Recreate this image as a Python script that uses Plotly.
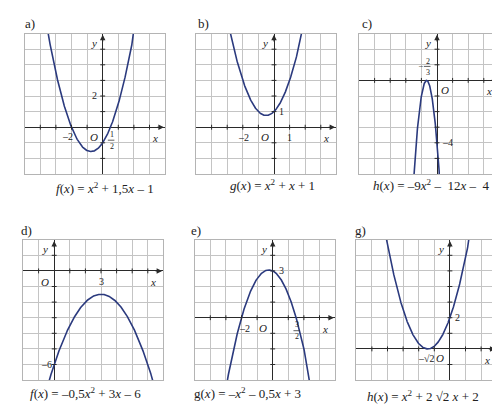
import numpy as np
import plotly.graph_objects as go

W, H = 500, 406
S2 = float(np.sqrt(2))

# ---------------- data ----------------
panel_names = ["a)", "b)", "c)", "d)", "e)", "g)"]
coef_a = [1.0, 1.0, -9.0, -0.5, -1.0, 1.0]          # x^2 coefficient
coef_b = [1.5, 1.0, -12.0, 3.0, -0.5, 2 * S2]       # x coefficient
coef_c = [-1.0, 1.0, -4.0, -6.0, 3.0, 2.0]          # constant term
x_ranges = [(-5, 4), (-5, 4), (-5, 4), (-2, 7), (-5, 4), (-6, 3)]
y_ranges = [(-3, 6), (-3, 6), (-6, 3), (-7, 2), (-4, 5), (-2, 7)]
captions = [
    "<i>f</i>(<i>x</i>) = <i>x</i><sup>2</sup> + 1,5<i>x</i> – 1",
    "<i>g</i>(<i>x</i>) = <i>x</i><sup>2</sup> + <i>x</i> + 1",
    "<i>h</i>(<i>x</i>) = –9<i>x</i><sup>2</sup> –  12<i>x</i> –  4",
    "<i>f</i>(<i>x</i>) = –0,5<i>x</i><sup>2</sup> + 3<i>x</i> – 6",
    "g(<i>x</i>) = –<i>x</i><sup>2</sup> – 0,5<i>x</i> + 3",
    "<i>h</i>(<i>x</i>) = <i>x</i><sup>2</sup> + 2 √2 <i>x</i> + 2",
]
# simple value labels: (x, y, text, xanchor, yanchor, xshift, yshift)
value_labels = [
    [(-2, 0, "–2", "right", "top", 3, -2), (0, 2, "2", "right", "middle", -4, 0)],
    [(-2, 0, "–2", "center", "top", 1, -3), (1, 0, "1", "center", "top", 0, -3),
     (0, 1, "1", "left", "middle", 3, 0)],
    [(0, -4, "–4", "left", "middle", 3, 0)],
    [(3, 0, "3", "center", "top", 0, -3), (0, -6, "–6", "right", "middle", 0, 0)],
    [(0, 3, "3", "left", "middle", 4, 0), (-2, 0, "–2", "center", "top", 3, -3)],
    [(0, 2, "2", "left", "middle", 3, 0), (-S2, 0, "–√2", "center", "top", -1, -2)],
]
# fraction labels: (x, numerator, denominator, sign, above_axis)
fractions = [
    [(0.5, "1", "2", "", False)],
    [],
    [(-2 / 3, "2", "3", "–", True)],
    [],
    [(1.5, "3", "2", "", False)],
    [],
]
# origin label shift per panel (xanchor, xshift, yshift)
origin_pos = [("right", -3, -2), ("right", -3, -2), ("left", 2, -2),
              ("right", -3, -3), ("right", -4, -2), ("right", -4, -1)]

# ---------------- layout geometry (px) ----------------
CELL = 15.6
SIZE = 9 * CELL
boxes = [(16.7, 25.6), (188.0, 25.6), (351.0, 25.6),
         (15.0, 231.7), (186.7, 231.7), (348.3, 231.7)]
name_pos = [(15, 15), (188, 15), (352, 15), (11, 222), (181, 222), (345, 222)]
caption_pos = [(97, 180), (264, 177), (423, 177), (77, 385), (239, 385), (415, 388)]

CURVE = "#2b3a7e"
GRID = "#c4c4c4"
AXIS = "#2a2a2a"
FONT = "Liberation Serif, Times New Roman, DejaVu Serif, serif"

fig = go.Figure()
annotations = []
shapes = []
layout = dict(
    width=W, height=H, margin=dict(l=0, r=0, t=0, b=0),
    paper_bgcolor="white", plot_bgcolor="white", showlegend=False,
    font=dict(family=FONT, color="#222", size=11),
)

for i in range(6):
    n = i + 1
    xa = "xaxis" if n == 1 else f"xaxis{n}"
    ya = "yaxis" if n == 1 else f"yaxis{n}"
    xr = "x" if n == 1 else f"x{n}"
    yr = "y" if n == 1 else f"y{n}"
    left, top = boxes[i]
    x0, x1 = x_ranges[i]
    y0, y1 = y_ranges[i]
    common = dict(showgrid=True, gridcolor=GRID, gridwidth=1, dtick=1,
                  zeroline=True, zerolinecolor=AXIS, zerolinewidth=1.1,
                  showticklabels=False, ticks="", showline=True, mirror=True,
                  linecolor="#b4b4b4", linewidth=1, fixedrange=True)
    layout[xa] = dict(common, range=[x0, x1], tick0=0,
                      domain=[left / W, (left + SIZE) / W], anchor=yr)
    layout[ya] = dict(common, range=[y0, y1], tick0=0,
                      domain=[1 - (top + SIZE) / H, 1 - top / H], anchor=xr)

    # curve
    xs = np.linspace(x0, x1, 600)
    ys = coef_a[i] * xs ** 2 + coef_b[i] * xs + coef_c[i]
    fig.add_trace(go.Scatter(x=xs, y=ys, mode="lines", xaxis=xr, yaxis=yr,
                             line=dict(color=CURVE, width=1.6), hoverinfo="skip"))
    # small tick marks on axes
    tx = [k for k in range(x0 + 1, x1) if k != 0]
    ty = [k for k in range(y0 + 1, y1) if k != 0]
    fig.add_trace(go.Scatter(x=tx, y=[0] * len(tx), mode="markers", xaxis=xr, yaxis=yr,
                             marker=dict(symbol="line-ns", size=3.5,
                                         line=dict(color=AXIS, width=1)), hoverinfo="skip"))
    fig.add_trace(go.Scatter(x=[0] * len(ty), y=ty, mode="markers", xaxis=xr, yaxis=yr,
                             marker=dict(symbol="line-ew", size=3.5,
                                         line=dict(color=AXIS, width=1)), hoverinfo="skip"))

    # axis arrows
    annotations.append(dict(x=x1 - 0.08, y=0, ax=x1 - 0.6, ay=0, xref=xr, yref=yr,
                            axref=xr, ayref=yr, text="", showarrow=True, arrowhead=2,
                            arrowsize=1, arrowwidth=1.1, arrowcolor=AXIS))
    annotations.append(dict(x=0, y=y1 - 0.08, ax=0, ay=y1 - 0.6, xref=xr, yref=yr,
                            axref=xr, ayref=yr, text="", showarrow=True, arrowhead=2,
                            arrowsize=1, arrowwidth=1.1, arrowcolor=AXIS))
    # axis names
    annotations.append(dict(x=0, y=y1, xref=xr, yref=yr, text="<i>y</i>", showarrow=False,
                            xanchor="right", yanchor="top", xshift=-4, yshift=-1,
                            font=dict(size=11)))
    annotations.append(dict(x=x1, y=0, xref=xr, yref=yr, text="<i>x</i>", showarrow=False,
                            xanchor="right", yanchor="top", xshift=-5, yshift=-3,
                            font=dict(size=11)))
    oa, oxs, oys = origin_pos[i]
    annotations.append(dict(x=0, y=0, xref=xr, yref=yr, text="<i>O</i>", showarrow=False,
                            xanchor=oa, yanchor="top", xshift=oxs, yshift=oys,
                            font=dict(size=11)))
    for (vx, vy, t, xan, yan, xs_, ys_) in value_labels[i]:
        annotations.append(dict(x=vx, y=vy, xref=xr, yref=yr, text=t, showarrow=False,
                                xanchor=xan, yanchor=yan, xshift=xs_, yshift=ys_,
                                font=dict(size=10)))
    for (fx, num, den, sign, above) in fractions[i]:
        if above:
            ln, nm, dn = 14, 19, 8
        else:
            ln, nm, dn = -13, -7, -19
        annotations.append(dict(x=fx, y=0, xref=xr, yref=yr, text=num, showarrow=False,
                                xanchor="center", yanchor="middle", yshift=nm, xshift=1,
                                font=dict(size=8)))
        annotations.append(dict(x=fx, y=0, xref=xr, yref=yr, text=den, showarrow=False,
                                xanchor="center", yanchor="middle", yshift=dn, xshift=1,
                                font=dict(size=8)))
        shapes.append(dict(type="line", xref=xr, yref=yr, ysizemode="pixel", yanchor=0,
                           x0=fx - 0.17, x1=fx + 0.25, y0=ln, y1=ln,
                           line=dict(color="#333", width=0.8)))
        if sign:
            annotations.append(dict(x=fx, y=0, xref=xr, yref=yr, text=sign, showarrow=False,
                                    xanchor="center", yanchor="middle", yshift=ln + 1,
                                    xshift=-6, font=dict(size=8)))

    # panel name and caption
    nx, ny = name_pos[i]
    annotations.append(dict(x=nx / W, y=1 - ny / H, xref="paper", yref="paper",
                            text=panel_names[i], showarrow=False, xanchor="left",
                            yanchor="middle", font=dict(size=13)))
    cx, cy = caption_pos[i]
    annotations.append(dict(x=cx / W, y=1 - cy / H, xref="paper", yref="paper",
                            text=captions[i], showarrow=False, xanchor="center",
                            yanchor="middle", font=dict(size=13)))

layout["annotations"] = annotations
layout["shapes"] = shapes
fig.update_layout(**layout)
fig.write_html("out.html")
